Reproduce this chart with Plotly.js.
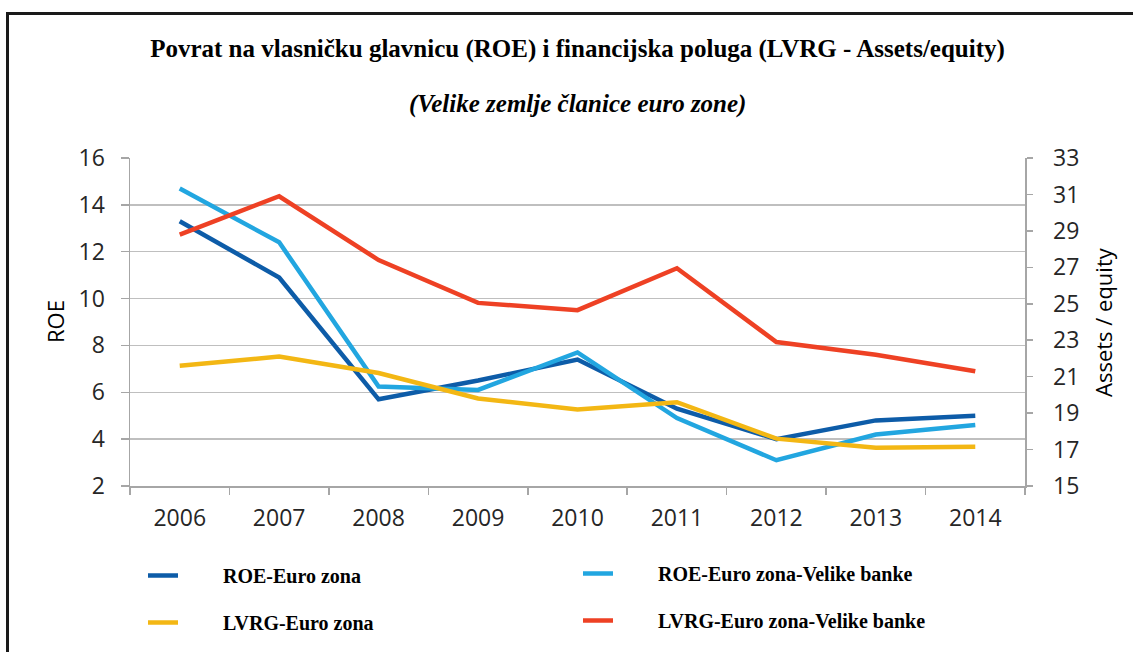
<!DOCTYPE html>
<html>
<head>
<meta charset="utf-8">
<script src="https://cdn.plot.ly/plotly-3.0.1.min.js"></script>
<style>
  html, body { margin: 0; padding: 0; background: #fff; }
  #wrap { position: relative; width: 1133px; height: 652px; }
  #chart { width: 1133px; height: 652px; }
  #frame { position: absolute; left: 6px; top: 12px; width: 1127px; height: 640px;
           border-top: 3px solid #1a1a1a; border-left: 3px solid #1a1a1a; pointer-events: none; }
</style>
</head>
<body>
<div id="wrap"><div id="chart"></div><div id="frame"></div></div>
<script>
const years = ['2006', '2007', '2008', '2009', '2010', '2011', '2012', '2013', '2014'];
const roeEuro = [13.3, 10.9, 5.7, 6.5, 7.4, 5.3, 4.0, 4.8, 5.0];
const roeBig = [14.7, 12.4, 6.25, 6.1, 7.7, 4.9, 3.1, 4.2, 4.6];
const lvrgEuro = [21.6, 22.1, 21.2, 19.8, 19.2, 19.6, 17.6, 17.1, 17.15];
const lvrgBig = [28.8, 30.9, 27.4, 25.05, 24.65, 26.95, 22.9, 22.2, 21.3];
const seriesNames = ['ROE-Euro zona', 'ROE-Euro zona-Velike banke', 'LVRG-Euro zona', 'LVRG-Euro zona-Velike banke'];
const axisTitles = ['ROE', 'Assets / equity'];

const colors = ['#0D5CA8', '#22A6E0', '#F3B714', '#EE4124'];
const pad = '\u00a0'.repeat(8);

const traces = [
  { x: years, y: roeEuro, name: seriesNames[0], yaxis: 'y', legend: 'legend', legendgroup: 'a' },
  { x: years, y: roeBig, name: seriesNames[1], yaxis: 'y', legend: 'legend2', legendgroup: 'b' },
  { x: years, y: lvrgEuro, name: seriesNames[2], yaxis: 'y2', legend: 'legend', legendgroup: 'c' },
  { x: years, y: lvrgBig, name: seriesNames[3], yaxis: 'y2', legend: 'legend2', legendgroup: 'd' }
].map((t, i) => Object.assign(t, {
  type: 'scatter', mode: 'lines',
  name: pad + t.name,
  line: { color: colors[i], width: 4.5 },
  hoverinfo: 'skip'
}));

const tickFont = { family: 'Open Sans, sans-serif', size: 23, color: '#262626' };
const legFont = { family: 'Liberation Serif, serif', size: 20, color: '#000', weight: 'bold' };
const axTitleFont = { family: 'Open Sans, sans-serif', size: 22, color: '#000' };

const layout = {
  width: 1133, height: 652,
  margin: { l: 130, r: 108, t: 158, b: 166, autoexpand: false },
  paper_bgcolor: '#fff', plot_bgcolor: '#fff',
  showlegend: true,
  title: {
    text: 'Povrat na vlasničku glavnicu (ROE) i financijska poluga (LVRG - Assets/equity)',
    font: { family: 'Liberation Serif, serif', size: 25, color: '#000', weight: 'bold' },
    xref: 'paper', x: 0.5, xanchor: 'center',
    yref: 'container', y: 1 - 48 / 652, yanchor: 'middle'
  },
  annotations: [
    {
      text: '<i>(Velike zemlje članice euro zone)</i>',
      font: { family: 'Liberation Serif, serif', size: 25, color: '#000', weight: 'bold' },
      xref: 'paper', x: 0.5, xanchor: 'center',
      yref: 'paper', y: (486 - 104) / 328, yanchor: 'middle',
      showarrow: false
    },
    {
      text: axisTitles[0], font: axTitleFont, textangle: -90,
      xref: 'paper', x: (55 - 130) / 895, xanchor: 'center',
      yref: 'paper', y: 0.5, yanchor: 'middle', showarrow: false
    },
    {
      text: axisTitles[1], font: axTitleFont, textangle: -90,
      xref: 'paper', x: (1103 - 130) / 895, xanchor: 'center',
      yref: 'paper', y: 0.5, yanchor: 'middle', showarrow: false
    }
  ],
  xaxis: {
    type: 'category',
    range: [-0.5, 8.5],
    showgrid: false,
    showline: true, linecolor: '#A6A6A6', linewidth: 1.5,
    ticks: 'outside', tickson: 'boundaries', ticklen: 7, tickcolor: '#A6A6A6', tickwidth: 1.5,
    tickfont: tickFont, tickangle: 0,
    ticklabelstandoff: 11,
    automargin: false,
    zeroline: false
  },
  yaxis: {
    range: [2, 16], dtick: 2, tick0: 2,
    showgrid: true, gridcolor: '#BFBFBF', gridwidth: 1.5,
    showline: true, linecolor: '#A6A6A6', linewidth: 1.5,
    ticks: 'outside', ticklen: 8, tickcolor: '#A6A6A6', tickwidth: 1.5,
    tickfont: tickFont,
    ticklabelstandoff: 11,
    automargin: false,
    zeroline: false
  },
  yaxis2: {
    overlaying: 'y', side: 'right',
    range: [15, 33], dtick: 2, tick0: 15,
    showgrid: false,
    showline: true, linecolor: '#A6A6A6', linewidth: 1.5,
    ticks: 'outside', ticklen: 6, tickcolor: '#A6A6A6', tickwidth: 1.5,
    tickfont: tickFont,
    ticklabelstandoff: 16,
    automargin: false,
    zeroline: false
  },
  legend: {
    xref: 'container', yref: 'container',
    x: 143 / 1133, xanchor: 'left', y: 1 - 556 / 652, yanchor: 'top',
    orientation: 'v', traceorder: 'grouped', tracegroupgap: 18,
    itemwidth: 30, font: legFont, bgcolor: 'rgba(0,0,0,0)'
  },
  legend2: {
    xref: 'container', yref: 'container',
    x: 578 / 1133, xanchor: 'left', y: 1 - 554 / 652, yanchor: 'top',
    orientation: 'v', traceorder: 'grouped', tracegroupgap: 18,
    itemwidth: 30, font: legFont, bgcolor: 'rgba(0,0,0,0)'
  }
};

Plotly.newPlot('chart', traces, layout, { staticPlot: true, displayModeBar: false });
</script>
</body>
</html>
